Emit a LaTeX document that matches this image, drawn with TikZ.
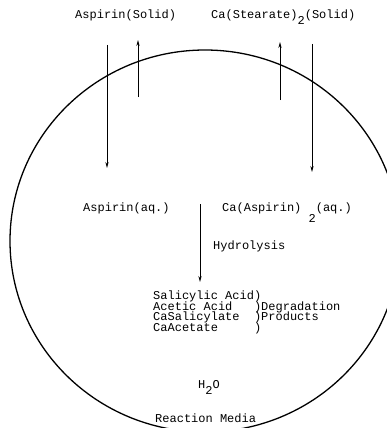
\documentclass[tikz,border=0pt]{standalone}
\usepackage{fontspec}
\setmonofont{Liberation Mono}
\usetikzlibrary{arrows.meta}

\tikzset{
  lbl/.style={font=\ttfamily\fontsize{12}{10.5}\selectfont, inner sep=0pt, anchor=base west, align=left},
  flow/.style={-{Stealth[length=6pt,width=3.2pt]}, line width=0.7pt},
}

\begin{document}
\begin{tikzpicture}[x=1pt, y=-1pt]
  \useasboundingbox (0,0) rectangle (387,428);
  % reaction media
  \begin{scope}
    \clip (0,0) rectangle (387,428);
    \draw[line width=1.3pt] (205,241) ellipse[x radius=195, y radius=191];
  \end{scope}

  \node[lbl] (asolid) at (75,19) {Aspirin(Solid)};
  \node[lbl] (casolid) at (211,19) {Ca(Stearate)\raisebox{-6pt}{2}(Solid)};
  \node[lbl] (aaq) at (83,211) {Aspirin(aq.)};
  \node[lbl] (caaq) at (222,211) {Ca(Aspirin)~~\llap{\raisebox{-11pt}{2}}(aq.)};
  \node[lbl] (hyd) at (213,249) {Hydrolysis};
  \node[lbl, anchor=north west] (prod) at (153,291) {Salicylic Acid)\\[-1.7pt]
    Acetic Acid~~~)Degradation\\[-1.7pt]
    CaSalicylate~~)Products\\[-1.7pt]
    CaAcetate~~~~~)};
  \node[lbl] (water) at (198,388) {H\raisebox{-6pt}{2}O};
  \node[lbl] (media) at (155,422) {Reaction Media};

  \coordinate (a1) at (107,45);  \coordinate (a2) at (107,168);
  \coordinate (a3) at (138,97);  \coordinate (a4) at (138,40);
  \coordinate (c1) at (280,100); \coordinate (c2) at (280,42);
  \coordinate (c3) at (312,44);  \coordinate (c4) at (312,172);
  \coordinate (h1) at (200,204); \coordinate (h2) at (200,282);
  \draw[flow] (a1) -- (a2);
  \draw[flow] (a3) -- (a4);
  \draw[flow] (c1) -- (c2);
  \draw[flow] (c3) -- (c4);
  \draw[flow] (h1) -- (h2);
\end{tikzpicture}
\end{document}
